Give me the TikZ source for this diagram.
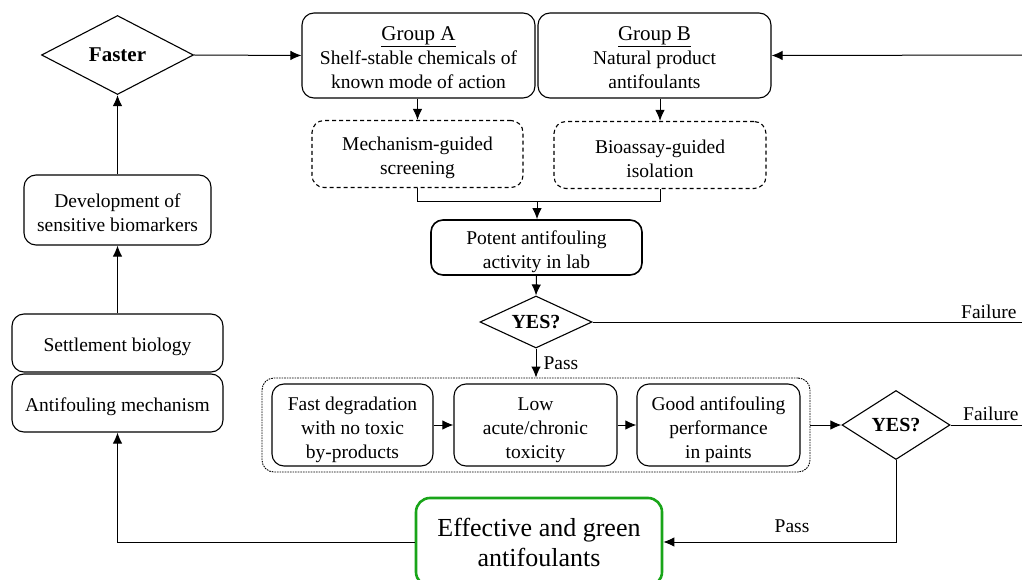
\documentclass[tikz,border=0pt]{standalone}
\usepackage{fontspec}
\setmainfont{Liberation Serif}
\usetikzlibrary{shapes.geometric,arrows.meta}
\definecolor{boxgreen}{RGB}{25,165,25}
\newcommand\tupa{\rule{0pt}{21.5pt}}
\newcommand\tupb{\rule{0pt}{18.5pt}}
\tikzset{
  base/.style={draw, align=center, inner sep=0pt, line width=1.1pt, font=\fontsize{19.5}{24}\selectfont},
  rbox/.style={base, rounded corners=12pt},
  dbox/.style={rbox, dash pattern=on 4pt off 3pt},
  decide/.style={base, diamond, aspect=2, font=\fontsize{20}{24}\selectfont\bfseries},
  conn/.style={line width=1pt},
  arr/.style={conn, -{Latex[length=11pt,width=9.5pt]}},
  lbl/.style={font=\fontsize{19.5}{24}\selectfont, inner sep=0pt}
}
\begin{document}
\begin{tikzpicture}[x=1pt,y=-1pt]
\useasboundingbox (0,0) rectangle (1022,580);
\clip (0,0) rectangle (1022,580);
% nodes
\node[decide, minimum width=152pt, minimum height=79pt, font=\fontsize{21}{24}\selectfont\bfseries] (faster) at (117.5,55) {Faster};
\node[rbox, minimum width=233pt, minimum height=85pt] (grpA) at (418.5,55.5) {\tupb{\fontsize{21}{24}\selectfont\underline{Group A}}\\Shelf-stable chemicals of\\known mode of action};
\node[rbox, minimum width=233pt, minimum height=85pt] (grpB) at (654.5,55.5) {\tupb{\fontsize{21}{24}\selectfont\underline{Group B}}\\Natural product\\antifoulants};
\node[dbox, minimum width=211pt, minimum height=67pt] (mech) at (417.5,154) {\tupa Mechanism-guided\\screening};
\node[dbox, minimum width=212pt, minimum height=67pt] (bio) at (660,155) {\tupa Bioassay-guided\\isolation};
\node[rbox, minimum width=211pt, minimum height=55pt, line width=1.6pt] (potent) at (536.5,247.5) {\tupa Potent antifouling\\activity in lab};
\node[decide, minimum width=112pt, minimum height=52pt] (yes1) at (536,322) {YES?};
\node[base, rounded corners=12pt, dash pattern=on 1.6pt off 1pt, line width=0.9pt, minimum width=548pt, minimum height=94pt] (grp) at (536,425) {};
\node[rbox, minimum width=161pt, minimum height=82pt] (b1) at (352.5,425) {\rule{0pt}{23pt}Fast degradation\\with no toxic\\by-products};
\node[rbox, minimum width=163pt, minimum height=82pt] (b2) at (535.5,425) {\rule{0pt}{23pt}Low\\acute/chronic\\toxicity};
\node[rbox, minimum width=163pt, minimum height=82pt] (b3) at (718.5,425) {\rule{0pt}{23pt}Good antifouling\\performance\\in paints};
\node[decide, minimum width=108pt, minimum height=69pt] (yes2) at (896,425) {YES?};
\node[rbox, draw=boxgreen, line width=2.6pt, rounded corners=14pt, minimum width=246pt, minimum height=88pt, font=\fontsize{26}{30}\selectfont] (green) at (539,542) {Effective and green\\antifoulants};
\node[rbox, minimum width=211pt, minimum height=58pt] (amech) at (117.5,403) {\tupa Antifouling mechanism};
\node[rbox, minimum width=211pt, minimum height=58pt] (settle) at (117.5,343) {\tupa Settlement biology};
\node[rbox, minimum width=187pt, minimum height=70pt] (devel) at (117.5,210) {\tupb Development of\\sensitive biomarkers};
% free ends
\coordinate (rin) at (1035,55);
\coordinate (fail1) at (1035,322);
\coordinate (fail2) at (1035,425);
\coordinate (merge) at (537,202);
% connectors
\draw[arr] (faster.east) -- (grpA.west);
\draw[arr] (rin) -- (grpB.east);
\draw[arr] (mech.north |- grpA.south) -- (mech.north);
\draw[arr] (bio.north |- grpB.south) -- (bio.north);
\draw[conn] (mech.south) -- (mech.south |- merge) -- (bio.south |- merge) -- (bio.south);
\draw[arr] (merge) -- (merge |- potent.north);
\draw[arr] (potent.south) -- (yes1.north);
\draw[conn] (yes1.east) -- (fail1);
\node[lbl, anchor=base west] (flab1) at (961,318) {Failure};
\draw[arr] (yes1.south) -- (grp.north) node[lbl, pos=0.5, anchor=west, xshift=7pt] (plab1) {Pass};
\draw[arr] (b1.east) -- (b2.west);
\draw[arr] (b2.east) -- (b3.west);
\draw[arr] (grp.east) -- (yes2.west);
\draw[conn] (yes2.east) -- (fail2);
\node[lbl, anchor=base west] (flab2) at (963,420) {Failure};
\draw[arr] (yes2.south) |- (green.east);
\node[lbl] (plab2) at (792,526) {Pass};
\draw[arr] (green.west) -| (amech.south);
\draw[arr] (settle.north) -- (devel.south);
\draw[arr] (devel.north) -- (faster.south);
\end{tikzpicture}
\end{document}
